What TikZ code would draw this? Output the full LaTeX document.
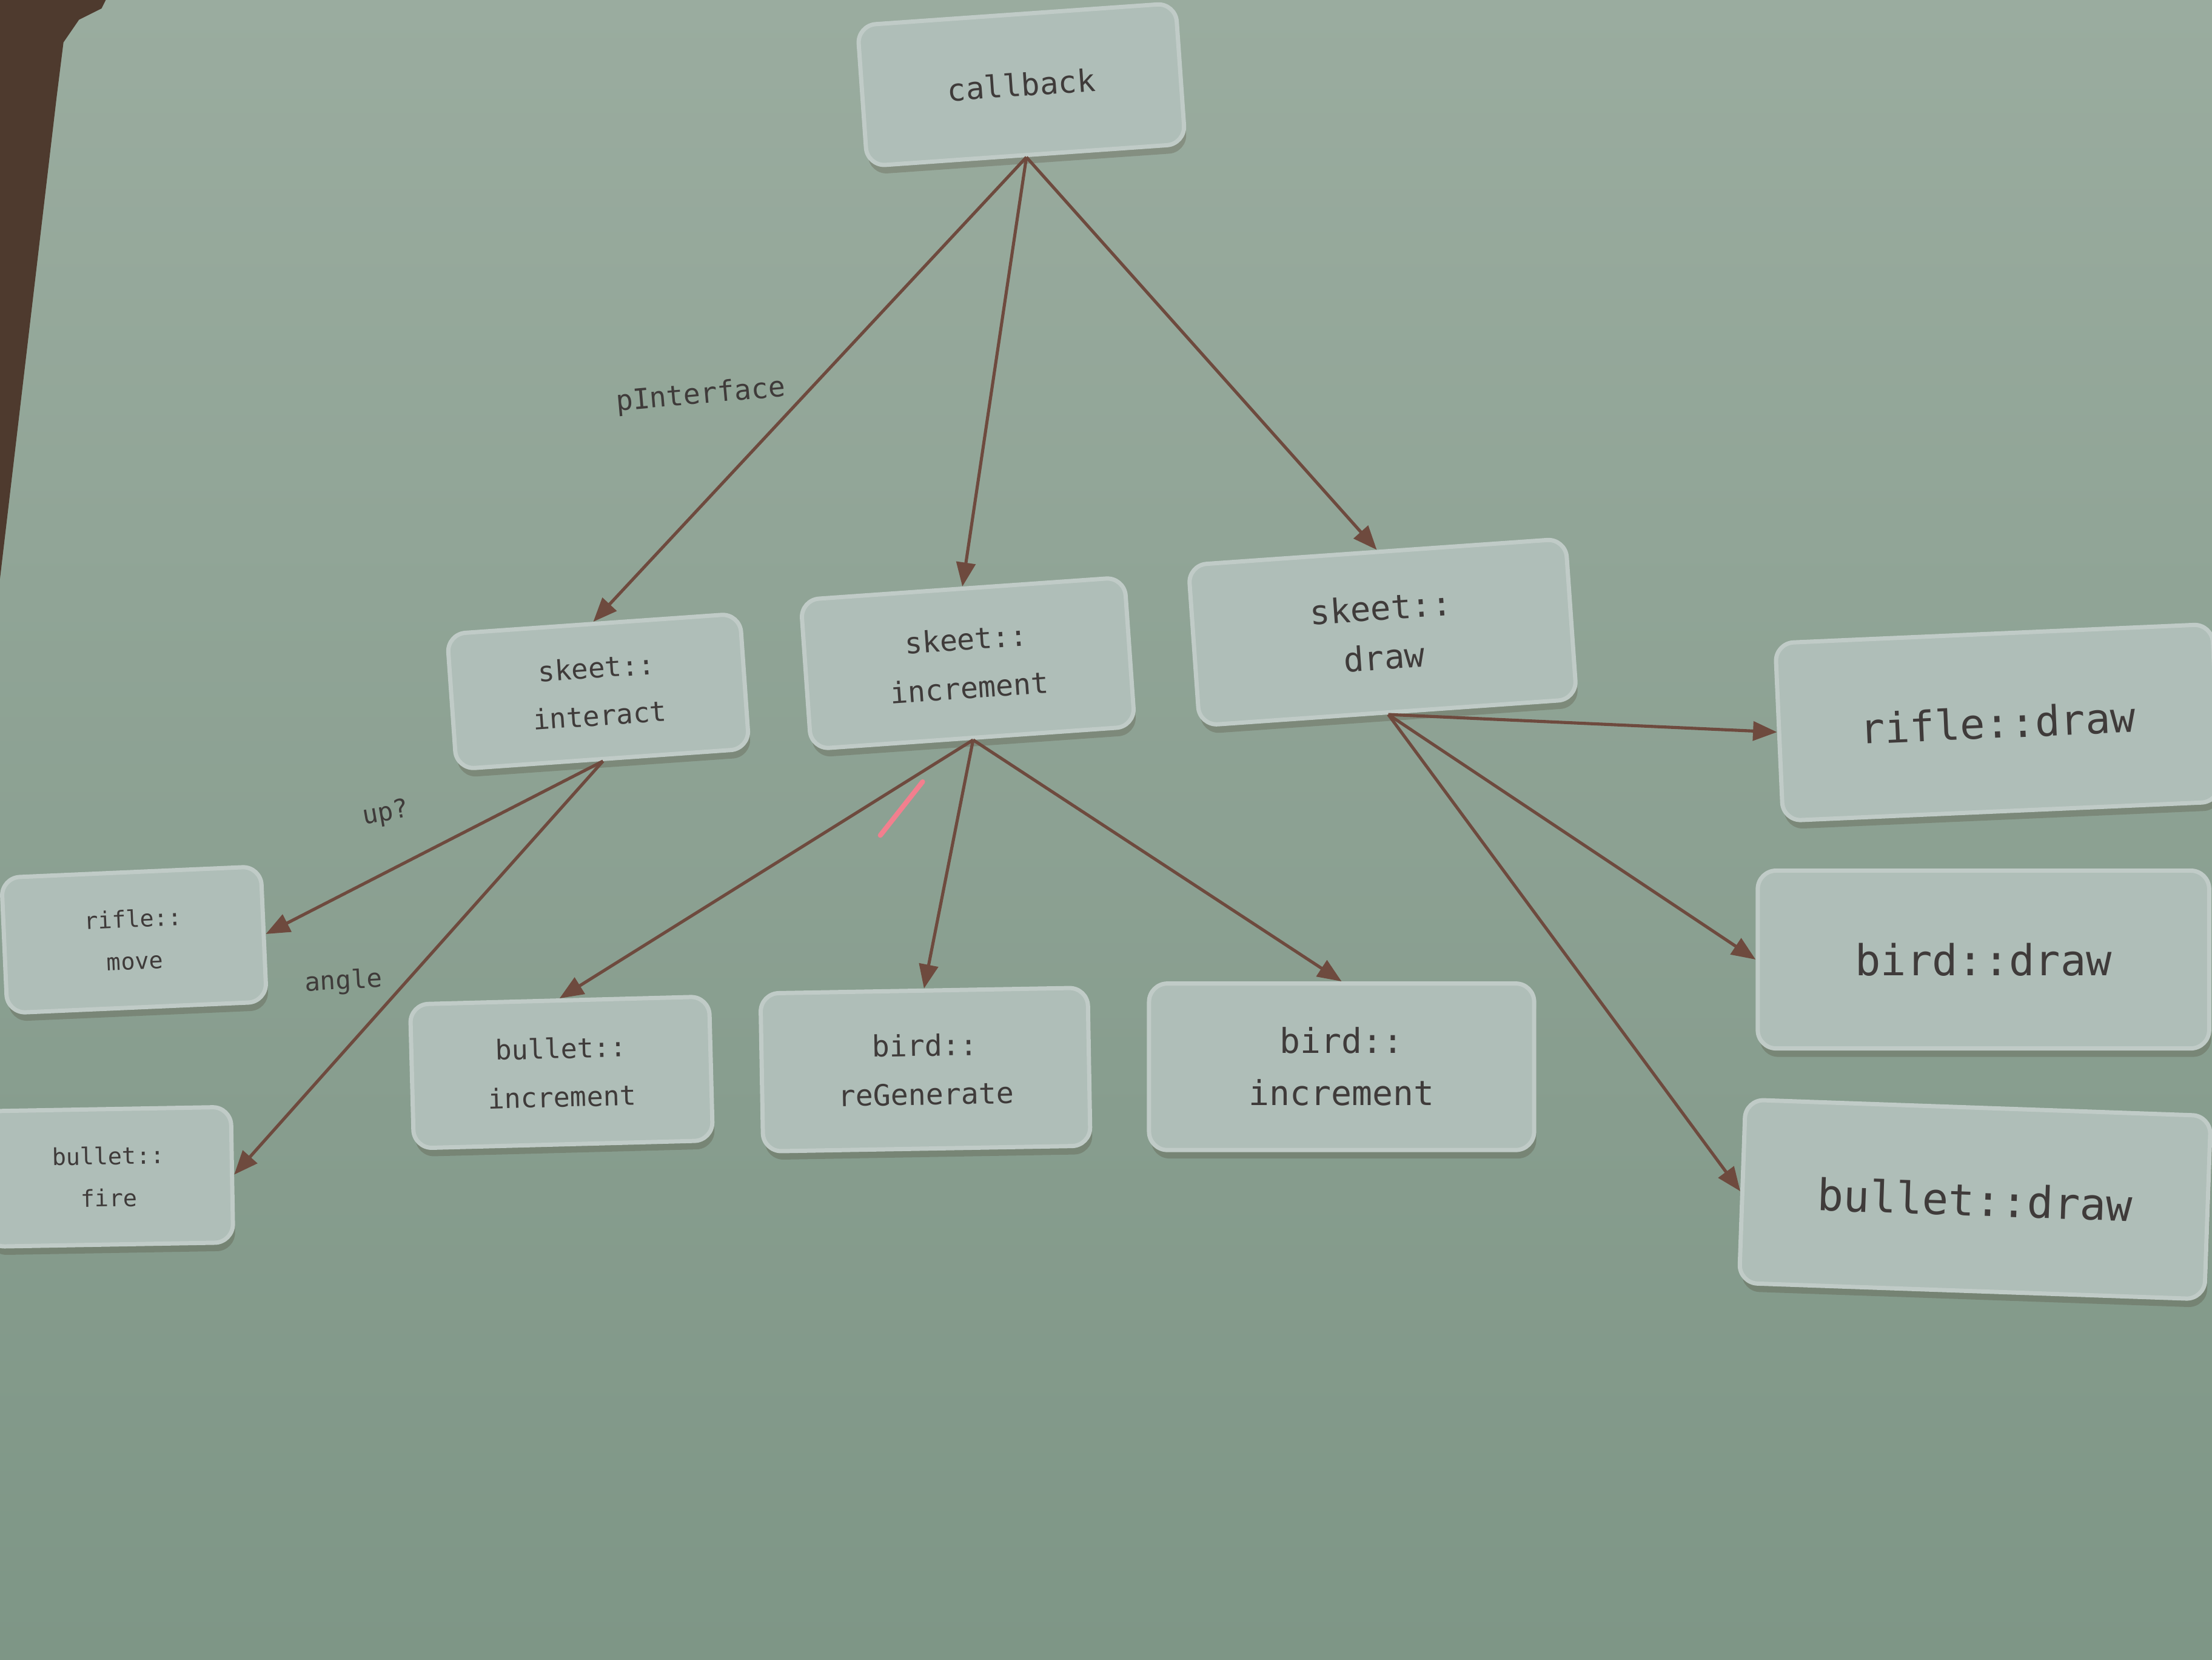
\documentclass[tikz,border=0pt]{standalone}
\usepackage{fontspec}
\setmonofont{DejaVu Sans Mono}
\usetikzlibrary{arrows.meta,shadows}
\definecolor{bgtop}{HTML}{9AAC9F}
\definecolor{bgbot}{HTML}{7E9686}
\definecolor{boxfill}{HTML}{AFBEB8}
\definecolor{boxline}{HTML}{C0CBC7}
\definecolor{edgecol}{HTML}{6E4A3E}
\definecolor{txtcol}{HTML}{3F3B3A}
\definecolor{framecol}{HTML}{4E3A2E}
\definecolor{lasercol}{HTML}{F27F8E}
\tikzset{
  fn/.style={draw=boxline, line width=0.3mm, fill=boxfill, rounded corners=1.3mm,
    text=txtcol, align=center, inner sep=0pt,
    drop shadow={shadow xshift=0.15mm, shadow yshift=-0.6mm, opacity=0.2, fill=black!70!brown}},
  fsz/.style 2 args={font=\ttfamily\fontsize{#1}{#2}\selectfont},
  call/.style={draw=edgecol, line width=0.22mm, -{Triangle[length=1.7mm,width=1.35mm]}},
  lbl/.style={text=txtcol, font=\ttfamily\fontsize{5.2pt}{6pt}\selectfont, inner sep=0pt},
}
\begin{document}
\begin{tikzpicture}[x=0.1mm,y=-0.1mm]
\useasboundingbox (0,0) rectangle (1568,1176);
\shade[top color=bgtop, bottom color=bgbot] (0,0) rectangle (1568,1176);
\fill[framecol] (0,0) -- (75,0) -- (72,6) -- (56,14) -- (45,30) -- (40,70) -- (0,410) -- cycle;

\node[fn, fsz={6.2pt}{8pt}, minimum width=22.6mm, minimum height=10mm, rotate=4] (cb) at (724,60) {callback};
\node[fn, fsz={5.6pt}{9.6pt}, minimum width=20.8mm, minimum height=9.6mm, rotate=4] (si) at (424,490) {skeet::\\interact};
\node[fn, fsz={5.9pt}{9.8pt}, minimum width=23mm, minimum height=10.6mm, rotate=4] (sinc) at (686,470) {skeet::\\increment};
\node[fn, fsz={6.8pt}{10pt}, minimum width=26.8mm, minimum height=11.4mm, rotate=4] (sd) at (980,448) {skeet::\\draw};
\node[fn, fsz={8.4pt}{10pt}, minimum width=31mm, minimum height=12.6mm, rotate=2.5] (rd) at (1416,512) {rifle::draw};
\node[fn, fsz={8.6pt}{10pt}, minimum width=32mm, minimum height=12.6mm] (bd) at (1406,680) {bird::draw};
\node[fn, fsz={8.8pt}{10pt}, minimum width=33mm, minimum height=13mm, rotate=-2] (bud) at (1400,850) {bullet::draw};
\node[fn, fsz={4.7pt}{8.5pt}, minimum width=18.4mm, minimum height=9.6mm, rotate=2.5] (rm) at (95,666) {rifle::\\move};
\node[fn, fsz={4.7pt}{8.5pt}, minimum width=17.5mm, minimum height=9.6mm, rotate=1] (bf) at (77,834) {bullet::\\fire};
\node[fn, fsz={5.5pt}{9.8pt}, minimum width=21.2mm, minimum height=10.2mm, rotate=1.5] (bi) at (398,760) {bullet::\\increment};
\node[fn, fsz={5.9pt}{9.8pt}, minimum width=23.2mm, minimum height=11.2mm, rotate=1] (br) at (656,758) {bird::\\reGenerate};
\node[fn, fsz={6.9pt}{10.5pt}, minimum width=27.3mm, minimum height=11.8mm] (bin) at (951,756) {bird::\\increment};

\draw[call] (cb.south) -- (si.north) node[lbl, pos=0.53, anchor=south east, xshift=-0.6mm, rotate=5, font=\ttfamily\fontsize{5.7pt}{6pt}\selectfont] {pInterface};
\draw[call] (cb.south) -- (sinc.north);
\draw[call] (cb.south) -- (sd.north);
\draw[call] (si.south) -- (rm.east) node[lbl, pos=0.637, above=3.1mm, rotate=10] {up?};
\draw[call] (si.south) -- (bf.east) node[lbl, pos=0.529, left=1.7mm, rotate=3] {angle};
\draw[call] (sinc.south) -- (bi.north);
\draw[call] (sinc.south) -- (br.north);
\draw[call] (sinc.south) -- (bin.north);
\draw[call] (sd.south) -- (rd.west);
\draw[call] (sd.south) -- (bd.west);
\draw[call] (sd.south) -- (bud.west);

\draw[lasercol, line width=0.35mm, line cap=round] (624,592) -- (654,554);
\end{tikzpicture}
\end{document}
